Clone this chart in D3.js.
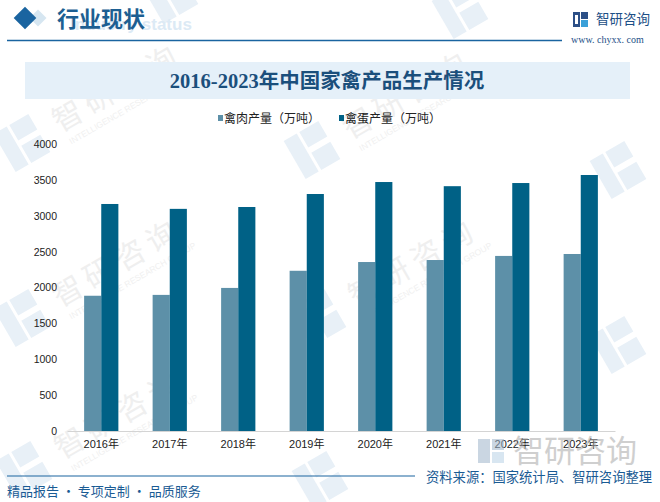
<!DOCTYPE html>
<html><head><meta charset="utf-8">
<script src="https://cdn.jsdelivr.net/npm/d3@7"></script>
<style>
html,body{margin:0;padding:0;background:#fff;}
svg{display:block;font-family:"Liberation Sans","Noto Sans CJK SC",sans-serif;}
</style></head>
<body>
<svg id="chart" width="660" height="502"></svg>
<script>
const categories = ["2016年","2017年","2018年","2019年","2020年","2021年","2022年","2023年"];
const seriesNames = ["禽肉产量（万吨）","禽蛋产量（万吨）"];
const meat = [1885, 1897, 1994, 2233, 2355, 2383, 2440, 2467];
const eggs = [3164, 3096, 3122, 3303, 3470, 3412, 3456, 3568];
const yTicks = [0,500,1000,1500,2000,2500,3000,3500,4000];
const colors = ["#5d90a8","#006186"];

const svg = d3.select("#chart");

// faint background watermarks (icon + brand text, rotated)
const wm = [[22,143,true],[22,318,true],[24,470,true],[312,150,true],[318,318,true],[618,170,false],[618,345,false],[320,480,false],[170,-5,false],[460,10,false]];
wm.forEach(([x,y,withText])=>{
  const g = svg.append("g").attr("transform",`translate(${x},${y}) rotate(-30)`);
  const ic = g.append("g").attr("fill","#e8f0f7");
  ic.append("rect").attr("x",-20).attr("y",-22).attr("width",15).attr("height",44);
  ic.append("rect").attr("x",-2).attr("y",-22).attr("width",22).attr("height",18);
  ic.append("rect").attr("x",-2).attr("y",2).attr("width",22).attr("height",20);
  if (withText) {
    g.append("text").attr("x",38).attr("y",10).attr("font-size",30).attr("letter-spacing",6)
      .attr("fill","#efefef").attr("font-family","Noto Sans CJK SC").text("智研咨询");
    g.append("text").attr("x",42).attr("y",26).attr("font-size",8.5).attr("fill","#f0f0f0")
      .attr("font-family","Liberation Sans").text("INTELLIGENCE RESEARCH GROUP");
  }
});

// header
svg.append("rect").attr("x",0).attr("y",0).attr("width",560).attr("height",40).attr("fill","none");
svg.append("text").attr("x",70).attr("y",30).attr("font-size",17).attr("font-weight","bold")
  .attr("fill","#dceaf5").attr("font-family","Liberation Sans").text("Industry status");
svg.append("rect").attr("x",-6).attr("y",-6).attr("width",12).attr("height",12)
  .attr("transform","translate(38,18) rotate(45)").attr("fill","#d6e6f1");
svg.append("rect").attr("x",-8).attr("y",-8).attr("width",16).attr("height",16)
  .attr("transform","translate(25,18) rotate(45)").attr("fill","#1a64a0");
svg.append("text").attr("x",57).attr("y",27).attr("font-size",22).attr("font-weight","bold")
  .attr("fill","#1d5f92").attr("font-family","Noto Sans CJK SC").text("行业现状");
svg.append("line").attr("x1",7).attr("x2",562).attr("y1",40.5).attr("y2",40.5)
  .attr("stroke","#1a64a0").attr("stroke-width",1.6);
// logo
const logo = svg.append("g").attr("transform","translate(573,12)");
logo.append("rect").attr("x",0).attr("y",0).attr("width",7).attr("height",15).attr("fill","#2c4f86");
logo.append("rect").attr("x",8).attr("y",0).attr("width",7).attr("height",7).attr("fill","#2c4f86");
logo.append("rect").attr("x",8).attr("y",8).attr("width",7).attr("height",7).attr("fill","#3aa0d8");
logo.append("rect").attr("x",2).attr("y",3).attr("width",3).attr("height",9).attr("fill","#fff");
svg.append("text").attr("x",596).attr("y",24).attr("font-size",13.5).attr("fill","#1d4f86")
  .attr("font-family","Noto Sans CJK SC").text("智研咨询");
svg.append("text").attr("x",571).attr("y",43).attr("font-size",10).attr("fill","#1d4f86")
  .attr("font-family","Liberation Serif").text("www. chyxx. com");

// title box
svg.append("rect").attr("x",25).attr("y",62).attr("width",605).attr("height",37).attr("fill","#e5f0f9");
svg.append("text").attr("x",327).attr("y",88).attr("text-anchor","middle").attr("font-size",20.5)
  .attr("font-weight","bold").attr("fill","#1b4f7c")
  .attr("font-family","'Liberation Serif','Noto Sans CJK SC',serif")
  .text("2016-2023年中国家禽产品生产情况");

// legend
const legX = [218, 339];
seriesNames.forEach((n,i)=>{
  svg.append("rect").attr("x",legX[i]).attr("y",115).attr("width",5).attr("height",6).attr("fill",colors[i]);
  svg.append("text").attr("x",legX[i]+6).attr("y",122.5).attr("font-size",12).attr("fill","#222")
    .attr("font-family","Noto Sans CJK SC").text(n);
});

// scales
const x = d3.scaleBand().domain(categories).range([67,615]).paddingInner(0.5).paddingOuter(0.25);
const xs = d3.scaleBand().domain([0,1]).range([0,x.bandwidth()]);
const y = d3.scaleLinear().domain([0,4000]).range([431,144]);

// bars
const data = [meat, eggs];
data.forEach((arr,si)=>{
  svg.append("g").selectAll("rect").data(arr).join("rect")
    .attr("x",(d,i)=>x(categories[i])+xs(si))
    .attr("y",d=>y(d))
    .attr("width",xs.bandwidth())
    .attr("height",d=>y(0)-y(d))
    .attr("fill",colors[si]);
});

// y axis
const ya = svg.append("g").attr("transform","translate(57,0)")
  .call(d3.axisLeft(y).tickValues(yTicks).tickSize(0).tickPadding(0).tickFormat(d3.format("d")));
ya.select(".domain").remove();
ya.selectAll("text").attr("font-size",10.5).attr("fill","#222").attr("font-family","Liberation Sans");

// x axis
const xa = svg.append("g").attr("transform","translate(0,431)")
  .call(d3.axisBottom(x).tickSize(0).tickPadding(9));
xa.select(".domain").attr("stroke","#d4d4d4");
xa.selectAll("text").attr("font-size",11).attr("fill","#222")
  .attr("font-family","'Liberation Sans','Noto Sans CJK SC'");

// overlay watermark logo
const ov = svg.append("g").attr("opacity",0.55);
ov.append("rect").attr("x",478).attr("y",439).attr("width",12).attr("height",24).attr("fill","#9fb6cc");
ov.append("rect").attr("x",492).attr("y",439).attr("width",12).attr("height",11).attr("fill","#9fb6cc");
ov.append("rect").attr("x",492).attr("y",452).attr("width",12).attr("height",11).attr("fill","#b9d3e6");
ov.append("text").attr("x",513).attr("y",462).attr("font-size",31).attr("fill","#a9a9a9")
  .attr("font-family","Noto Sans CJK SC").text("智研咨询");

// footer
svg.append("line").attr("x1",7).attr("x2",415).attr("y1",476).attr("y2",476)
  .attr("stroke","#1a64a0").attr("stroke-width",1.2);
svg.append("text").attr("x",426).attr("y",482).attr("font-size",13.3).attr("fill","#1a5b94")
  .attr("font-family","Noto Sans CJK SC").text("资料来源：国家统计局、智研咨询整理");
svg.append("text").attr("x",7).attr("y",496).attr("font-size",13).attr("fill","#1a5b94")
  .attr("font-family","Noto Sans CJK SC").text("精品报告 · 专项定制 · 品质服务");
</script>
</body></html>
